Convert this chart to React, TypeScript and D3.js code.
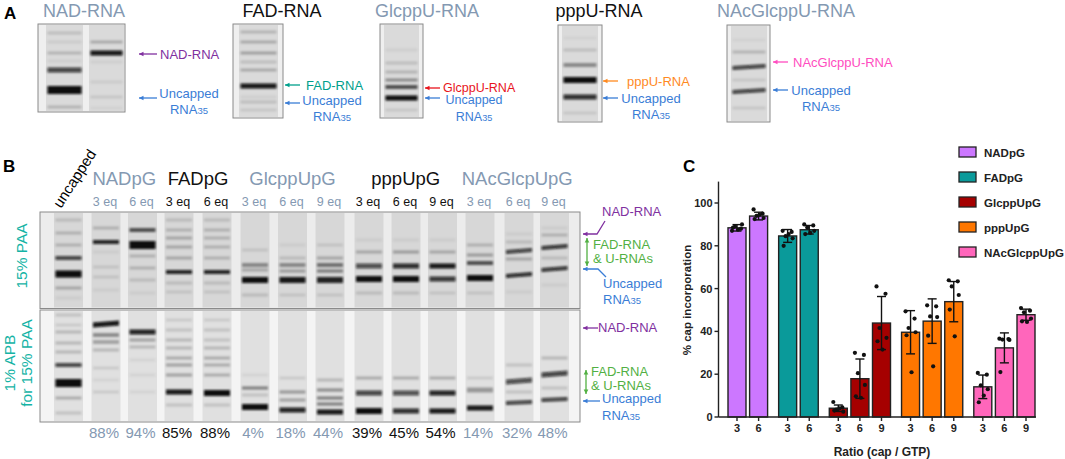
import React from "react";
import * as d3 from "d3";

const FONT = "'Liberation Sans', Arial, Helvetica, sans-serif";
const GRAY = "#8499b2";
const PURPLE = "#8030a0";
const BLUE = "#3a7dd6";
const GREEN = "#52b043";
const TEAL_A = "#00a08c";
const TEAL_B = "#14b3a5";
const RED = "#e8141c";
const ORANGE = "#ff8a1f";
const PINK = "#ff4dc0";

// ---------------- Panel C data ----------------
const capGroups = ["NADpG", "FADpG", "GlcppUpG", "pppUpG", "NAcGlcppUpG"];
const groupColors = ["#cc77ff", "#0a9a9a", "#a50000", "#ff7700", "#ff66bb"];
const groupRatios = [[3, 6], [3, 6], [3, 6, 9], [3, 6, 9], [3, 6, 9]];
const meanValues = [88.4, 93.9, 84.6, 87.5, 4.1, 17.9, 43.9, 39.6, 44.8, 53.9, 14.1, 32.3, 47.8];
const sdValues = [1.5, 1.8, 3.0, 2.0, 1.5, 9.2, 12.4, 10.1, 10.4, 9.4, 5.5, 7.0, 2.6];
const replicatePoints = [
  [87, 88, 89, 90, 88.5, 87.5],
  [97, 95, 94, 93, 92.5, 94.5],
  [87, 86.5, 84.5, 83.5, 80, 85.5],
  [90, 89.5, 88.5, 87, 85.5, 86],
  [7, 4.5, 3.5, 2.5, 3, 4],
  [30, 29, 20.5, 15, 9.7, 9],
  [61, 57.6, 41.6, 37, 35.4, 31.5],
  [49.4, 46, 41.6, 39.6, 38.2, 20.9],
  [52.2, 51.7, 47, 46.7, 38, 23.7],
  [63.9, 63.4, 61, 57, 50.2, 37.7],
  [20.6, 19.8, 14.8, 13, 6.9, 10],
  [36.6, 36.4, 36.2, 36.0, 21],
  [50.9, 49.7, 48.9, 46, 44.7, 44.4],
];
const yTicks = [0, 20, 40, 60, 80, 100];

// ---------------- Panel B labels ----------------
const bHeaders = ["NADpG", "FADpG", "GlcppUpG", "pppUpG", "NAcGlcpUpG"];
const bHeaderColors = [GRAY, "#111", GRAY, "#111", GRAY];
const bEqLabels = ["3 eq", "6 eq", "3 eq", "6 eq", "3 eq", "6 eq", "9 eq", "3 eq", "6 eq", "9 eq", "3 eq", "6 eq", "9 eq"];
const bPercentLabels = ["88%", "94%", "85%", "88%", "4%", "18%", "44%", "39%", "45%", "54%", "14%", "32%", "48%"];

// band: [y, intensity, height?, slope?]
type Band = number[];
type Lane = { x: number; w: number; bands: Band[] };

const laneCentersB = [68.5, 106, 142.5, 179, 217, 255, 292.5, 330, 369, 406, 442.5, 480, 519, 554.5];
const laneGroupB = [-1, 0, 0, 1, 1, 2, 2, 2, 3, 3, 3, 4, 4, 4];

const bTopBands: Band[][] = [
  [[220, .2], [233, .25], [245, .25], [258, .7, 4], [274, 1, 7], [288, .3], [298, .1]],
  [[228, .25], [242, .85, 4], [252, .1], [267, .15], [277, .15], [290, .1]],
  [[230, .6, 4], [245, 1, 8], [256, .25], [268, .25], [280, .2], [293, .1]],
  [[220, .2], [230, .25], [238, .3], [247, .3], [258, .3], [272, .85, 4], [283, .2], [292, .15]],
  [[220, .2], [230, .25], [238, .25], [247, .25], [258, .25], [272, .85, 4], [283, .2], [292, .15]],
  [[250, .15], [265, .45, 4], [270, .3], [280, .95, 6], [295, .2]],
  [[245, .1], [258, .2], [265, .45, 4], [271, .35], [280, .9, 6], [295, .15]],
  [[245, .15], [258, .3], [265, .55, 4], [271, .5], [280, .85, 6], [295, .15]],
  [[240, .1], [252, .3], [266, .65, 5], [279, .95, 6], [293, .2]],
  [[240, .1], [252, .35], [266, .8, 5], [279, .95, 6], [293, .2]],
  [[240, .1], [252, .3], [266, .9, 5], [279, .75, 5], [293, .15]],
  [[245, .25], [255, .35], [263, .6, 4], [278, 1, 6], [293, .15]],
  [[234, .1], [242, .2], [252, .7, 4, -2], [259, .3], [276, .8, 4, -2], [292, .1]],
  [[228, .1], [235, .25], [248, .75, 4, -2], [258, .2], [270, .75, 4, -2], [285, .1]],
];
const bBottomBands: Band[][] = [
  [[315, .2], [325, .15], [332, .25], [343, .25], [352, .25], [365, .7, 4], [383, 1, 8], [398, .3], [413, .2]],
  [[325, .9, 5, -2], [335, .45, 4], [342, .35, 4], [350, .25], [368, .15], [380, .1], [392, .15]],
  [[332, .85, 5], [340, .35], [347, .25], [360, .1], [375, .1], [392, .1]],
  [[320, .15], [330, .2], [340, .25], [348, .25], [358, .3], [365, .35], [375, .35], [392, .9, 5], [405, .2]],
  [[320, .15], [330, .2], [340, .2], [348, .25], [358, .3], [365, .3], [375, .3], [393, 1, 6], [405, .2]],
  [[375, .1], [388, .5], [395, .2], [407, .95, 6]],
  [[378, .15], [392, .4], [400, .35], [410, .85, 5]],
  [[380, .25], [390, .45], [398, .5], [404, .5], [412, .9, 5]],
  [[378, .3], [393, .7, 5], [411, .95, 6]],
  [[378, .3], [393, .65, 5], [411, .8, 5]],
  [[378, .3], [393, .85, 5], [411, .9, 5]],
  [[378, .15], [390, .4, 5], [408, .9, 5]],
  [[365, .2], [382, .65, 5, -2], [392, .2], [403, .7, 4, -1]],
  [[358, .25], [375, .7, 5, -2], [388, .2], [400, .7, 4, -1]],
];

// ---------------- Panel A gels ----------------
type GelA = {
  title: string; titleColor: string; titleX: number;
  frame: [number, number, number, number]; lanes: Lane[];
  capLabel: string; capColor: string; capY: number; capTextY: number;
  uncY: number; uncTextX: number; uncTextY: number; arrowX: [number, number]; textX: number;
  fs: number;
};
const gelsA: GelA[] = [
  {
    title: "NAD-RNA", titleColor: GRAY, titleX: 84, frame: [38, 24, 87, 88],
    lanes: [
      { x: 46, w: 37, bands: [[33, .2], [42, .12], [53, .25], [61, .1], [70, .7, 5], [90, 1, 8], [107, .25]] },
      { x: 89, w: 35, bands: [[42, .3], [53, .9, 5], [62, .1], [82, .12], [97, .15], [108, .08]] },
    ],
    capLabel: "NAD-RNA", capColor: PURPLE, capY: 54, capTextY: 58.5,
    uncY: 98, uncTextX: 189, uncTextY: 97.5, arrowX: [139, 157], textX: 160, fs: 13,
  },
  {
    title: "FAD-RNA", titleColor: "#111", titleX: 282, frame: [233, 24, 50, 94],
    lanes: [{ x: 239, w: 39, bands: [[32, .25], [42, .3], [53, .35], [62, .2], [70, .3], [86, .9, 5], [97, .1], [102, .2], [110, .15]] }],
    capLabel: "FAD-RNA", capColor: TEAL_A, capY: 85, capTextY: 89.5,
    uncY: 103, uncTextX: 332, uncTextY: 104.5, arrowX: [285, 300], textX: 306, fs: 13,
  },
  {
    title: "GlcppU-RNA", titleColor: GRAY, titleX: 427, frame: [380, 24, 43, 94],
    lanes: [{ x: 384, w: 35, bands: [[50, .1], [63, .2], [72, .25], [80, .45], [87, .6, 4], [98, .95, 5], [110, .15]] }],
    capLabel: "GlcppU-RNA", capColor: RED, capY: 88, capTextY: 91.5,
    uncY: 98, uncTextX: 474, uncTextY: 104, arrowX: [425, 440], textX: 443, fs: 12.5,
  },
  {
    title: "pppU-RNA", titleColor: "#111", titleX: 599, frame: [558, 25, 44, 97],
    lanes: [{ x: 562, w: 36, bands: [[38, .08], [50, .2], [65, .45, 4], [80, 1, 6], [97, .8, 5], [113, .15]] }],
    capLabel: "pppU-RNA", capColor: ORANGE, capY: 81, capTextY: 85.5,
    uncY: 98, uncTextX: 651, uncTextY: 102.5, arrowX: [603, 618], textX: 627, fs: 13,
  },
  {
    title: "NAcGlcppU-RNA", titleColor: GRAY, titleX: 786, frame: [727, 25, 43, 97],
    lanes: [{ x: 731, w: 36, bands: [[40, .08], [52, .25], [68, .7, 4, -2], [80, .15], [92, .7, 4, -2], [108, .15]] }],
    capLabel: "NAcGlcppU-RNA", capColor: PINK, capY: 62, capTextY: 66.5,
    uncY: 90, uncTextX: 821, uncTextY: 94.5, arrowX: [773, 788], textX: 793, fs: 13,
  },
];

function arrowHead(tip: [number, number], from: [number, number], color: string, key?: string) {
  const dx = tip[0] - from[0], dy = tip[1] - from[1];
  const len = Math.hypot(dx, dy) || 1;
  const ux = dx / len, uy = dy / len;
  const L = 4.5, W = 2.3;
  const bx = tip[0] - ux * L, by = tip[1] - uy * L;
  const px = -uy, py = ux;
  const d = `M${tip[0]},${tip[1]}L${bx + px * W},${by + py * W}L${bx - px * W},${by - py * W}Z`;
  return <path key={key} d={d} fill={color} />;
}

function Arrow({ pts, color, both = false }: { pts: [number, number][]; color: string; both?: boolean }) {
  const line = d3.line()(pts) || "";
  const n = pts.length;
  return (
    <g>
      <path d={line} fill="none" stroke={color} strokeWidth={1.3} />
      {arrowHead(pts[0], pts[1], color)}
      {both ? arrowHead(pts[n - 1], pts[n - 2], color) : null}
    </g>
  );
}

function Bands({ lane }: { lane: Lane }) {
  return (
    <g filter="url(#blur)">
      {lane.bands.map((b, i) => {
        const [y, a, h = 3.2, s = 0] = b;
        const x0 = lane.x + 1.5, x1 = lane.x + lane.w - 1.5;
        const d = `M${x0},${y - h / 2}L${x1},${y - h / 2 + s}L${x1},${y + h / 2 + s}L${x0},${y + h / 2}Z`;
        const op = a >= 0.6 ? Math.min(1, a * 1.05) : Math.pow(a, 1.25);
        return <path key={i} d={d} fill="#0a0a0a" opacity={op} />;
      })}
    </g>
  );
}

function RnaLabel({ x, y, anchor = "middle", color = BLUE, fs = 13 }: { x: number; y: number; anchor?: string; color?: string; fs?: number }) {
  return (
    <g fill={color} fontSize={fs} fontFamily={FONT}>
      <text x={x} y={y} textAnchor={anchor as any}>Uncapped</text>
      <text x={x} y={y + 16.5} textAnchor={anchor as any}>
        RNA<tspan fontSize={fs * 0.73}>35</tspan>
      </text>
    </g>
  );
}

function PanelA() {
  return (
    <g>
      <text x={4} y={19} fontSize={17} fontWeight="bold" fontFamily={FONT}>A</text>
      {gelsA.map((g, i) => {
        const [fx, fy, fw, fh] = g.frame;
        return (
          <g key={i}>
            <text x={g.titleX} y={17} textAnchor="middle" fontSize={18} fill={g.titleColor} fontFamily={FONT}>{g.title}</text>
            <rect x={fx} y={fy} width={fw} height={fh} fill="#efefef" stroke="#8a8a8a" strokeWidth={1} />
            {g.lanes.map((l, j) => (
              <g key={j}>
                <rect x={l.x} y={fy + 1} width={l.w} height={fh - 2} fill="#dadada" />
                <Bands lane={l} />
              </g>
            ))}
            <Arrow pts={[[g.arrowX[0], g.capY], [g.arrowX[1], g.capY]]} color={g.capColor} />
            <text x={g.textX} y={g.capTextY} fontSize={g.fs} fill={g.capColor} fontFamily={FONT}>{g.capLabel}</text>
            <Arrow pts={[[g.arrowX[0], g.uncY], [g.arrowX[1], g.uncY]]} color={BLUE} />
            <RnaLabel x={g.uncTextX} y={g.uncTextY} fs={g.fs} />
          </g>
        );
      })}
    </g>
  );
}

function PanelB() {
  const gx0 = 40, gx1 = 580;
  const headerCenters = capGroups.map((_, gi) => {
    const xs = laneCentersB.filter((_, i) => laneGroupB[i] === gi);
    return (d3.min(xs)! + d3.max(xs)!) / 2;
  });
  const laneW = 29;
  const renderGel = (y0: number, y1: number, bands: Band[][], laneFill: string, bg: string) => (
    <g>
      <rect x={gx0} y={y0} width={gx1 - gx0} height={y1 - y0} fill={bg} stroke="#8a8a8a" strokeWidth={1} />
      {laneCentersB.map((c, i) => {
        const lane: Lane = { x: c - laneW / 2, w: laneW, bands: bands[i] };
        return (
          <g key={i}>
            <rect x={lane.x} y={y0 + 1} width={laneW} height={y1 - y0 - 2} fill={laneFill} />
            <Bands lane={lane} />
          </g>
        );
      })}
    </g>
  );
  return (
    <g fontFamily={FONT}>
      <text x={3} y={172} fontSize={17} fontWeight="bold">B</text>
      <text x={61} y={209} fontSize={15} transform="rotate(-57,61,209)">uncapped</text>
      {bHeaders.map((h, i) => (
        <text key={i} x={headerCenters[i]} y={185} textAnchor="middle" fontSize={18.5} fill={bHeaderColors[i]}>{h}</text>
      ))}
      {bEqLabels.map((t, i) => (
        <text key={i} x={laneCentersB[i + 1] - 1} y={205.5} textAnchor="middle" fontSize={12.5}
          fill={bHeaderColors[laneGroupB[i + 1]]}>{t}</text>
      ))}
      {renderGel(212, 308.5, bTopBands, "#d7d7d7", "#ececec")}
      {renderGel(310, 422, bBottomBands, "#e0e0e0", "#f4f4f4")}
      {bPercentLabels.map((t, i) => (
        <text key={i} x={laneCentersB[i + 1] - 2} y={438} textAnchor="middle" fontSize={15}
          fill={bHeaderColors[laneGroupB[i + 1]]}>{t}</text>
      ))}
      <text transform="translate(27,256) rotate(-90)" textAnchor="middle" fontSize={15.5} fill={TEAL_B}>15% PAA</text>
      <text transform="translate(15,363) rotate(-90)" textAnchor="middle" fontSize={15.5} fill={TEAL_B}>1% APB</text>
      <text transform="translate(32,363) rotate(-90)" textAnchor="middle" fontSize={15.5} fill={TEAL_B}>for 15% PAA</text>
      <Arrow pts={[[583, 234], [597, 234], [605, 221]]} color={PURPLE} />
      <text x={602} y={215.5} fontSize={13} fill={PURPLE}>NAD-RNA</text>
      <Arrow pts={[[587, 238], [587, 266]]} color={GREEN} both />
      <text x={593} y={248.5} fontSize={13} fill={GREEN}>FAD-RNA</text>
      <text x={593} y={263} fontSize={13} fill={GREEN}>&amp; U-RNAs</text>
      <Arrow pts={[[583, 269], [598, 269], [606, 277]]} color={BLUE} />
      <RnaLabel x={603} y={287.5} anchor="start" />
      <Arrow pts={[[583, 328], [598, 328]]} color={PURPLE} />
      <text x={598} y={331.5} fontSize={13} fill={PURPLE}>NAD-RNA</text>
      <Arrow pts={[[586, 370], [586, 394]]} color={GREEN} both />
      <text x={591} y={375.5} fontSize={13} fill={GREEN}>FAD-RNA</text>
      <text x={591} y={390} fontSize={13} fill={GREEN}>&amp; U-RNAs</text>
      <Arrow pts={[[583, 401], [600, 401]]} color={BLUE} />
      <RnaLabel x={602} y={403} anchor="start" />
    </g>
  );
}

function PanelC() {
  const gapFrac = 0.345;
  const barW = 18;
  const bars: { g: number; r: number; i: number; slot: number }[] = [];
  let idx = 0;
  groupRatios.forEach((rs, g) => rs.forEach((r) => { bars.push({ g, r, i: idx, slot: idx + g * gapFrac }); idx++; }));
  const maxSlot = d3.max(bars, (b) => b.slot)!;
  const x = d3.scaleLinear().domain([0, maxSlot]).range([728, 1017]);
  const y = d3.scaleLinear().domain([0, 110]).range([417, 181.6]);
  const axisX0 = 718.5, axisX1 = 1036;
  const jitter = [-5, 4, -2, 5, -4, 1];
  return (
    <g fontFamily={FONT}>
      <text x={683} y={172} fontSize={17} fontWeight="bold">C</text>
      {bars.map((b) => (
        <rect key={b.i} x={x(b.slot)} y={y(meanValues[b.i])} width={barW} height={y(0) - y(meanValues[b.i])}
          fill={groupColors[b.g]} stroke="#222" strokeWidth={1.4} />
      ))}
      {bars.map((b) => {
        const cx = x(b.slot) + barW / 2;
        const hi = y(meanValues[b.i] + sdValues[b.i]);
        const lo = y(Math.max(0, meanValues[b.i] - sdValues[b.i]));
        return (
          <g key={b.i} stroke="#111" strokeWidth={1.4}>
            <line x1={cx} x2={cx} y1={hi} y2={lo} />
            <line x1={cx - 4.5} x2={cx + 4.5} y1={hi} y2={hi} />
            <line x1={cx - 4.5} x2={cx + 4.5} y1={lo} y2={lo} />
          </g>
        );
      })}
      {bars.map((b) => (
        <g key={b.i}>
          {replicatePoints[b.i].map((v, k) => (
            <circle key={k} cx={x(b.slot) + barW / 2 + jitter[k % jitter.length]} cy={y(v)} r={2.1} fill="#111" />
          ))}
        </g>
      ))}
      <line x1={axisX0} x2={axisX0} y1={y(110)} y2={y(0)} stroke="#222" strokeWidth={1.4} />
      {yTicks.map((t) => (
        <g key={t}>
          <line x1={axisX0 - 4} x2={axisX0} y1={y(t)} y2={y(t)} stroke="#222" strokeWidth={1.4} />
          <text x={axisX0 - 6} y={y(t) + 4} textAnchor="end" fontSize={11} fontWeight="bold" fill="#222">{t}</text>
        </g>
      ))}
      <line x1={axisX0} x2={axisX1} y1={y(0)} y2={y(0)} stroke="#222" strokeWidth={1.4} />
      {bars.map((b) => {
        const cx = x(b.slot) + barW / 2;
        return (
          <g key={b.i}>
            <line x1={cx} x2={cx} y1={y(0)} y2={y(0) + 4} stroke="#222" strokeWidth={1.4} />
            <text x={cx} y={y(0) + 15} textAnchor="middle" fontSize={11} fontWeight="bold" fill="#222">{b.r}</text>
          </g>
        );
      })}
      <text x={882} y={456} textAnchor="middle" fontSize={12} fontWeight="bold" fill="#222">Ratio (cap / GTP)</text>
      <text transform="translate(691,300) rotate(-90)" textAnchor="middle" fontSize={11.5} fontWeight="bold" fill="#222">% cap incorporation</text>
      {capGroups.map((gname, i) => (
        <g key={gname}>
          <rect x={959} y={147 + i * 25} width={17} height={10} fill={groupColors[i]} stroke="#222" strokeWidth={1.3} />
          <text x={984} y={156.5 + i * 25} fontSize={11.5} fontWeight="bold" fill="#222">{gname}</text>
        </g>
      ))}
    </g>
  );
}

export default function App() {
  return (
    <svg width={1065} height={459} viewBox="0 0 1065 459"
      style={{ position: "absolute", left: 0, top: 0, background: "#fff" }}>
      <defs>
        <filter id="blur" x="-10%" y="-50%" width="120%" height="200%">
          <feGaussianBlur stdDeviation="1.25" />
        </filter>
      </defs>
      <rect width={1065} height={459} fill="#fff" />
      <PanelA />
      <PanelB />
      <PanelC />
    </svg>
  );
}
